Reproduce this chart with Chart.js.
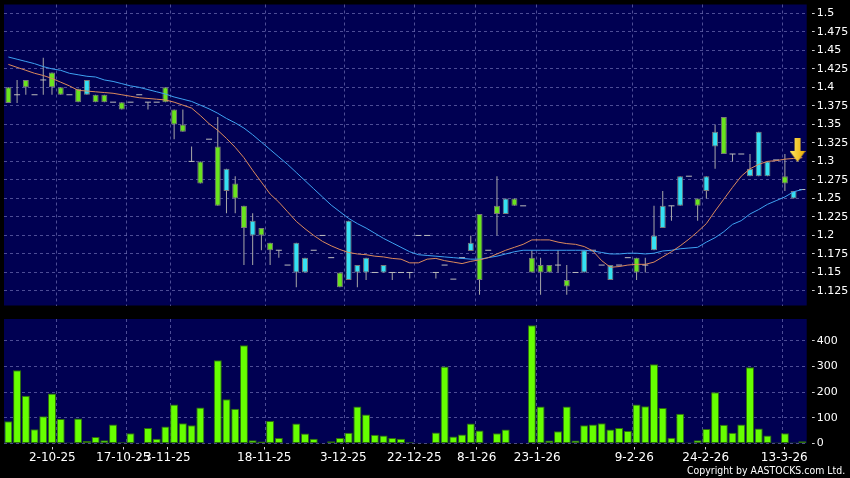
<!DOCTYPE html>
<html>
<head>
<meta charset="utf-8">
<title>Price and volume</title>
<script src="https://cdn.jsdelivr.net/npm/chart.js@4.4.1/dist/chart.umd.min.js"></script>
<style>
    html, body { margin: 0; padding: 0; background: #000; }
    #wrap { position: relative; width: 850px; height: 478px; overflow: hidden; background: #000; }
    #priceBox { position: absolute; left: 0; top: 0; width: 850px; height: 312px; }
    #volumeBox { position: absolute; left: 0; top: 312px; width: 850px; height: 166px; }
    #copyright { position: absolute; right: 5px; top: 464.5px; color: #fff; font: 11px 'DejaVu Sans', sans-serif; line-height: 12px; white-space: nowrap; transform: scaleX(0.854); transform-origin: right top; }
</style>
</head>
<body>
<div id="wrap">
    <div id="priceBox"><canvas id="priceChart"></canvas></div>
    <div id="volumeBox"><canvas id="volumeChart"></canvas></div>
    <div id="copyright">Copyright by AASTOCKS.com Ltd.</div>
</div>
<script>
// daily candles, oldest first
const opens = [1.379, 1.390, 1.400, 1.390, 1.410, 1.400, 1.390, 1.390, 1.380, 1.410,
    1.380, 1.380, 1.380, 1.370, 1.380, 1.390, 1.380, 1.380, 1.380, 1.350,
    1.340, 1.300, 1.270, 1.330, 1.240, 1.290, 1.250, 1.210, 1.220, 1.200,
    1.180, 1.180, 1.160, 1.190, 1.170, 1.180, 1.200, 1.170, 1.130, 1.220,
    1.160, 1.170, 1.150, 1.160, 1.150, 1.150, 1.150, 1.200, 1.200, 1.150,
    1.160, 1.141, 1.170, 1.190, 1.140, 1.180, 1.229, 1.250, 1.240, 1.240,
    1.150, 1.150, 1.150, 1.160, 1.131, 1.150, 1.180, 1.180, 1.160, 1.160,
    1.160, 1.170, 1.150, 1.160, 1.200, 1.240, 1.240, 1.280, 1.280, 1.240,
    1.280, 1.340, 1.310, 1.310, 1.310, 1.290, 1.340, 1.300, 1.302, 1.270,
    1.260, 1.262];
const highs = [1.400, 1.410, 1.410, 1.390, 1.440, 1.420, 1.400, 1.390, 1.398, 1.410,
    1.390, 1.390, 1.380, 1.380, 1.380, 1.390, 1.380, 1.380, 1.400, 1.370,
    1.370, 1.320, 1.300, 1.330, 1.360, 1.290, 1.280, 1.240, 1.230, 1.210,
    1.190, 1.180, 1.160, 1.190, 1.170, 1.180, 1.200, 1.170, 1.150, 1.220,
    1.160, 1.170, 1.150, 1.160, 1.150, 1.150, 1.150, 1.200, 1.200, 1.150,
    1.160, 1.141, 1.170, 1.200, 1.229, 1.180, 1.280, 1.250, 1.250, 1.240,
    1.180, 1.170, 1.160, 1.180, 1.160, 1.150, 1.180, 1.180, 1.160, 1.160,
    1.160, 1.170, 1.170, 1.170, 1.240, 1.260, 1.240, 1.280, 1.280, 1.250,
    1.280, 1.350, 1.360, 1.310, 1.310, 1.310, 1.340, 1.300, 1.302, 1.310,
    1.260, 1.262];
const lows = [1.379, 1.379, 1.390, 1.390, 1.390, 1.390, 1.390, 1.390, 1.380, 1.390,
    1.380, 1.380, 1.380, 1.370, 1.380, 1.390, 1.370, 1.380, 1.380, 1.330,
    1.340, 1.300, 1.270, 1.330, 1.240, 1.230, 1.230, 1.160, 1.160, 1.180,
    1.160, 1.170, 1.160, 1.130, 1.150, 1.180, 1.200, 1.170, 1.130, 1.140,
    1.130, 1.140, 1.150, 1.150, 1.140, 1.150, 1.142, 1.200, 1.200, 1.142,
    1.160, 1.141, 1.170, 1.179, 1.120, 1.180, 1.200, 1.229, 1.240, 1.240,
    1.150, 1.120, 1.150, 1.150, 1.120, 1.150, 1.150, 1.180, 1.160, 1.140,
    1.160, 1.170, 1.140, 1.150, 1.180, 1.210, 1.220, 1.240, 1.280, 1.220,
    1.250, 1.290, 1.310, 1.300, 1.310, 1.280, 1.280, 1.280, 1.302, 1.260,
    1.250, 1.262];
const closes = [1.400, 1.390, 1.410, 1.390, 1.410, 1.420, 1.400, 1.390, 1.398, 1.390,
    1.390, 1.390, 1.380, 1.380, 1.380, 1.390, 1.380, 1.380, 1.400, 1.370,
    1.350, 1.300, 1.300, 1.330, 1.320, 1.260, 1.270, 1.240, 1.200, 1.210,
    1.190, 1.180, 1.160, 1.150, 1.150, 1.180, 1.200, 1.170, 1.150, 1.140,
    1.150, 1.150, 1.150, 1.150, 1.150, 1.150, 1.150, 1.200, 1.200, 1.150,
    1.160, 1.141, 1.170, 1.179, 1.229, 1.180, 1.240, 1.229, 1.250, 1.240,
    1.170, 1.160, 1.160, 1.160, 1.140, 1.150, 1.150, 1.180, 1.160, 1.140,
    1.160, 1.170, 1.170, 1.160, 1.180, 1.210, 1.240, 1.240, 1.280, 1.250,
    1.260, 1.320, 1.360, 1.310, 1.310, 1.280, 1.280, 1.280, 1.302, 1.280,
    1.250, 1.262];

// moving averages as drawn (orange = short, blue = long)
const maShort = [1.431, 1.427, 1.423, 1.419, 1.416, 1.412, 1.407, 1.402, 1.396, 1.395,
    1.394, 1.393, 1.392, 1.390, 1.388, 1.386, 1.385, 1.384, 1.383, 1.380,
    1.376, 1.372, 1.362, 1.351, 1.342, 1.331, 1.319, 1.305, 1.288, 1.272,
    1.256, 1.245, 1.232, 1.219, 1.209, 1.200, 1.192, 1.186, 1.181, 1.177,
    1.175, 1.174, 1.172, 1.171, 1.169, 1.168, 1.163, 1.163, 1.168, 1.169,
    1.166, 1.164, 1.162, 1.165, 1.167, 1.170, 1.175, 1.180, 1.184, 1.188,
    1.194, 1.194, 1.194, 1.191, 1.189, 1.188, 1.185, 1.179, 1.166, 1.157,
    1.158, 1.160, 1.161, 1.161, 1.164, 1.171, 1.178, 1.186, 1.195, 1.205,
    1.216, 1.233, 1.249, 1.265, 1.280, 1.290, 1.296, 1.300, 1.301, 1.303,
    1.304, 1.305];
const maLong = [1.441, 1.438, 1.435, 1.432, 1.428, 1.425, 1.423, 1.419, 1.417, 1.415,
    1.414, 1.410, 1.408, 1.405, 1.402, 1.400, 1.397, 1.394, 1.391, 1.387,
    1.384, 1.381, 1.376, 1.371, 1.365, 1.358, 1.352, 1.345, 1.336, 1.326,
    1.316, 1.306, 1.296, 1.285, 1.274, 1.263, 1.252, 1.241, 1.232, 1.223,
    1.216, 1.210, 1.203, 1.196, 1.190, 1.184, 1.178, 1.174, 1.173, 1.172,
    1.171, 1.170, 1.169, 1.168, 1.168, 1.170, 1.172, 1.175, 1.178, 1.180,
    1.180, 1.180, 1.180, 1.180, 1.180, 1.180, 1.180, 1.179, 1.177, 1.175,
    1.175, 1.176, 1.176, 1.175, 1.176, 1.179, 1.180, 1.182, 1.183, 1.184,
    1.191, 1.197, 1.205, 1.215, 1.220, 1.229, 1.235, 1.242, 1.247, 1.252,
    1.259, 1.262];

// daily volume
const volumes = [87, 286, 186, 56, 106, 195, 96, 4, 97, 10,
    25, 13, 74, 5, 40, 3, 60, 19, 66, 152,
    79, 71, 140, 0, 325, 173, 135, 383, 13, 8,
    88, 21, 0, 78, 39, 19, 0, 9, 21, 42,
    144, 113, 34, 31, 21, 19, 5, 3, 1, 43,
    300, 27, 35, 78, 51, 3, 40, 55, 0, 0,
    461, 144, 12, 48, 144, 12, 71, 74, 79, 55,
    60, 49, 152, 145, 309, 138, 22, 116, 4, 13,
    57, 200, 73, 42, 74, 297, 58, 31, 4, 40,
    4, 9];

// axis ticks
const priceTicks = [1.125, 1.15, 1.175, 1.2, 1.225, 1.25, 1.275, 1.3, 1.325, 1.35, 1.375, 1.4, 1.425, 1.45, 1.475, 1.5];
const volumeTicks = [0, 100, 200, 300, 400];
const dateTickText = ['2-10-25', '17-10-25', '3-11-25', '18-11-25', '3-12-25', '22-12-25', '8-1-26', '23-1-26', '9-2-26', '24-2-26', '13-3-26'];
const dateTickPos = [5.04, 13.17, 18.22, 29.33, 38.39, 46.53, 53.68, 60.62, 71.74, 79.92, 88.93];
const dateGridPos = [5.54, 13.56, 18.53, 29.49, 38.47, 46.53, 53.56, 60.56, 71.51, 79.54, 88.78];

// signal arrow at the right end
const signalDay = [90.45];
const signalPrice = [1.3155];

const dayIndex = opens.map((_, i) => i);

Chart.defaults.font.family = "'DejaVu Sans', sans-serif";

const panelColor = '#000052';
const gridColor = 'rgba(140, 140, 205, 0.55)';
const upColor = '#6ae31e';
const downColor = '#35e0f2';

// navy fill behind the plot area
const panelFill = {
    id: 'panelFill',
    beforeDraw(chart) {
        const { ctx, chartArea: a } = chart;
        ctx.save();
        ctx.fillStyle = panelColor;
        ctx.fillRect(a.left, a.top, a.right - a.left, a.bottom - a.top);
        ctx.restore();
    }
};

const wickData = [];
const bodyData = [];
const bodyColors = [];
const dojiData = [];
dayIndex.forEach(i => {
    if (highs[i] > lows[i]) wickData.push({ x: i, y: [lows[i], highs[i]] });
    if (opens[i] === closes[i]) {
        dojiData.push({ x: i, y: opens[i] });
    } else {
        bodyData.push({ x: i, y: [opens[i], closes[i]] });
        bodyColors.push(closes[i] > opens[i] ? upColor : downColor);
    }
});

function makeArrow() {
    const c = document.createElement('canvas');
    c.width = 16;
    c.height = 24;
    const g = c.getContext('2d');
    g.beginPath();
    g.moveTo(5, 0); g.lineTo(11, 0); g.lineTo(11, 13); g.lineTo(16, 13);
    g.lineTo(8, 24); g.lineTo(0, 13); g.lineTo(5, 13);
    g.closePath();
    const grad = g.createLinearGradient(0, 0, 16, 0);
    grad.addColorStop(0, '#ffe866');
    grad.addColorStop(1, '#e6a800');
    g.fillStyle = grad;
    g.fill();
    return c;
}

const xRange = { min: -0.5, max: dayIndex.length - 0.5 };

// keep the y labels from pushing the plot area inwards
const tightY = s => { s.width = 43.3; s.paddingTop = 0; s.paddingBottom = 0; };

// x axis that only draws the dashed date grid lines
const gridAxis = () => ({
    type: 'linear', ...xRange, offset: false,
    afterBuildTicks: s => { s.ticks = dateGridPos.map(v => ({ value: v })); },
    afterFit: s => { s.height = 0; s.paddingLeft = 0; s.paddingRight = 0; },
    grid: { color: gridColor, drawTicks: false, offset: false },
    border: { display: false, dash: [3, 3] },
    ticks: { display: false }
});

new Chart(document.getElementById('priceChart'), {
    type: 'bar',
    data: {
        datasets: [
            {
                label: 'Range', data: wickData, order: 5, grouped: false,
                barThickness: 1, backgroundColor: '#a8a8a8', borderWidth: 0, inflateAmount: 0
            },
            {
                label: 'Body', data: bodyData, order: 4, grouped: false,
                barThickness: 6, backgroundColor: bodyColors, borderColor: '#7a7a7a',
                borderWidth: 1, borderSkipped: false, inflateAmount: 0
            },
            {
                type: 'line', label: 'Unchanged', data: dojiData, order: 3, showLine: false,
                pointStyle: 'line', pointRadius: 3, pointBorderWidth: 1, pointBorderColor: '#bdbdbd'
            },
            {
                type: 'line', label: 'MA long', data: dayIndex.map(i => ({ x: i, y: maLong[i] })), order: 2,
                borderColor: '#3ea2f2', borderWidth: 1, pointRadius: 0, tension: 0
            },
            {
                type: 'line', label: 'MA short', data: dayIndex.map(i => ({ x: i, y: maShort[i] })), order: 1,
                borderColor: '#dc8a5c', borderWidth: 1, pointRadius: 0, tension: 0
            },
            {
                type: 'line', label: 'Signal', data: signalDay.map((d, k) => ({ x: d, y: signalPrice[k] })),
                order: 0, showLine: false, pointStyle: makeArrow(), pointRadius: 8
            }
        ]
    },
    options: {
        responsive: true,
        maintainAspectRatio: false,
        animation: false,
        events: [],
        layout: { autoPadding: false, padding: { left: 4, top: 4.5, right: 0, bottom: 6.5 } },
        plugins: { legend: { display: false }, tooltip: { enabled: false } },
        scales: {
            x: gridAxis(),
            y: {
                position: 'right',
                min: 1.1054,
                max: 1.5119,
                afterBuildTicks: s => { s.ticks = priceTicks.map(v => ({ value: v })); },
                afterFit: tightY,
                grid: { color: gridColor, tickColor: '#d0d0d0', tickLength: 8, tickBorderDash: [0, 5, 3, 20] },
                border: { display: false, dash: [3, 3] },
                ticks: { color: '#ffffff', font: { size: 11 }, padding: 2, callback: v => String(v) }
            }
        }
    },
    plugins: [panelFill]
});

new Chart(document.getElementById('volumeChart'), {
    type: 'bar',
    data: {
        datasets: [{
            label: 'Volume',
            data: dayIndex.map(i => ({ x: i, y: volumes[i] })),
            backgroundColor: '#66ff00',
            borderColor: '#2f6e0c',
            borderWidth: 1,
            borderSkipped: false,
            categoryPercentage: 1,
            barPercentage: 0.92
        }]
    },
    options: {
        responsive: true,
        maintainAspectRatio: false,
        animation: false,
        events: [],
        layout: { autoPadding: false, padding: { left: 4, top: 7, right: 0, bottom: 0 } },
        plugins: { legend: { display: false }, tooltip: { enabled: false } },
        scales: {
            x: gridAxis(),
            xl: {
                type: 'linear', position: 'bottom', ...xRange, offset: false,
                afterBuildTicks: s => { s.ticks = dateTickPos.map(v => ({ value: v })); },
                afterFit: s => { s.height = 34.5; s.paddingLeft = 0; s.paddingRight = 0; },
                grid: { drawOnChartArea: false, tickColor: '#d0d0d0', tickLength: 6, tickBorderDash: [0, 3, 3, 20], offset: false },
                border: { display: false },
                ticks: {
                    color: '#ffffff', font: { size: 12 }, padding: 1,
                    autoSkip: false, maxRotation: 0, minRotation: 0,
                    callback: (v, i) => dateTickText[i]
                }
            },
            y: {
                position: 'right',
                min: 0,
                max: 485.4,
                afterBuildTicks: s => { s.ticks = volumeTicks.map(v => ({ value: v })); },
                afterFit: tightY,
                grid: { color: gridColor, tickColor: '#d0d0d0', tickLength: 8, tickBorderDash: [0, 5, 3, 20] },
                border: { display: false, dash: [3, 3] },
                ticks: { color: '#ffffff', font: { size: 11 }, padding: 2 }
            }
        }
    },
    plugins: [panelFill]
});
</script>
</body>
</html>
